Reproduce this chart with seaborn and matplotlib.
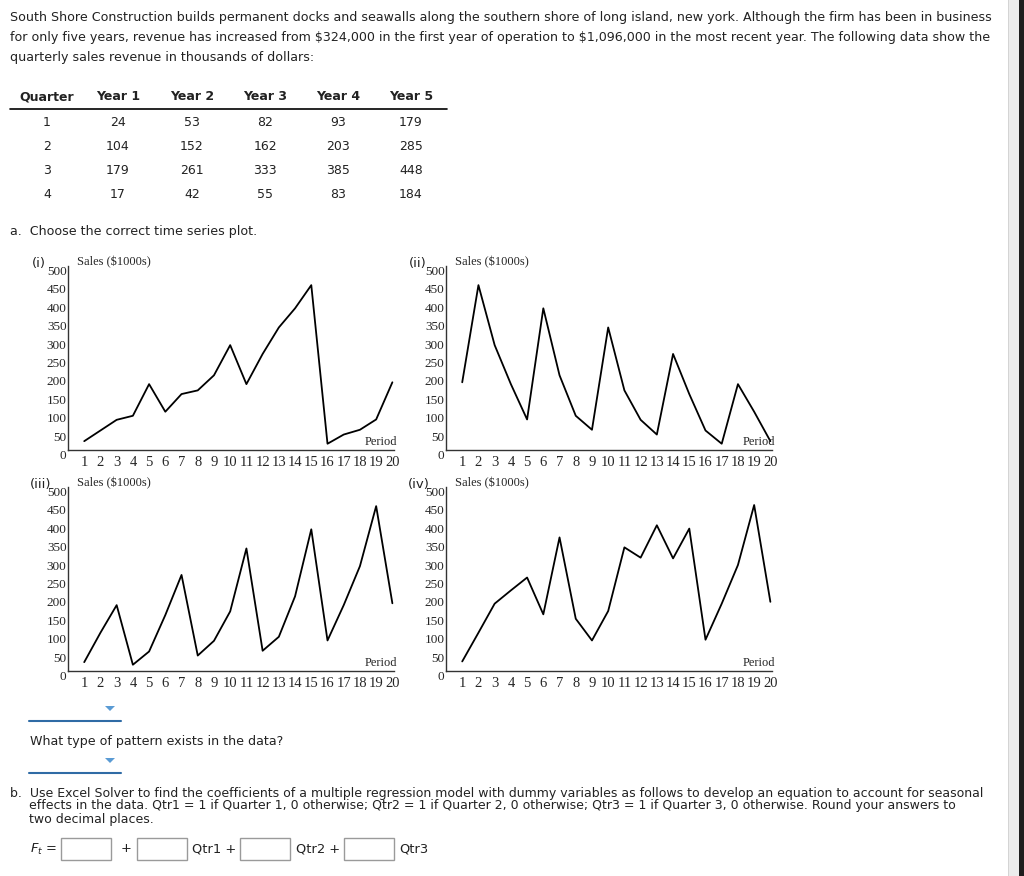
import numpy as np
import pandas as pd
import seaborn as sns
import matplotlib.pyplot as plt
from matplotlib.patches import Rectangle, Polygon

# quarterly sales table (thousands of dollars)
quarters = [1, 2, 3, 4]
year1 = [24, 104, 179, 17]
year2 = [53, 152, 261, 42]
year3 = [82, 162, 333, 55]
year4 = [93, 203, 385, 83]
year5 = [179, 285, 448, 184]
year_labels = ['Year 1', 'Year 2', 'Year 3', 'Year 4', 'Year 5']

# the four candidate time series plots
periods = list(range(1, 21))
sales_i = [24, 53, 82, 93, 179, 104, 152, 162, 203, 285, 179, 261, 333, 385, 448, 17, 42, 55, 83, 184]
sales_ii = [184, 448, 285, 179, 83, 385, 203, 93, 55, 333, 162, 82, 42, 261, 152, 53, 17, 179, 104, 24]
sales_iii = [24, 104, 179, 17, 53, 152, 261, 42, 82, 162, 333, 55, 93, 203, 385, 83, 179, 285, 448, 184]
sales_iv = [26, 104, 183, 219, 254, 154, 363, 142, 83, 163, 336, 308, 396, 306, 387, 85, 183, 288, 451, 188]
y_ticks = [0, 50, 100, 150, 200, 250, 300, 350, 400, 450, 500]

W, H = 1024, 876


def fx(x):
    return x / W


def fy(y):
    return 1 - y / H


sns.set_theme(style='white')
plt.rcParams['font.family'] = ['DejaVu Sans']

fig = plt.figure(figsize=(10.24, 8.76), dpi=100)
fig.patch.set_facecolor('white')

txt = '#222222'
serif = ['Liberation Serif', 'DejaVu Serif']

# intro paragraph
intro = [
    "South Shore Construction builds permanent docks and seawalls along the southern shore of long island, new york. Although the firm has been in business",
    r"for only five years, revenue has increased from \$324,000 in the first year of operation to \$1,096,000 in the most recent year. The following data show the",
    "quarterly sales revenue in thousands of dollars:",
]
for i, line in enumerate(intro):
    fig.text(fx(10), fy(17 + i * 20.5), line, fontsize=9.12, color=txt, va='center')

# table
col_x = [47, 118, 192, 265, 338, 411]
fig.text(fx(col_x[0]), fy(97), 'Quarter', fontsize=9, fontweight='bold', ha='center', va='center', color=txt)
for cx, lab in zip(col_x[1:], year_labels):
    fig.text(fx(cx), fy(97), lab, fontsize=9, fontweight='bold', ha='center', va='center', color=txt)
fig.add_artist(plt.Line2D([fx(10), fx(447)], [fy(109), fy(109)], color='black', linewidth=1.2))
table = pd.DataFrame({'Quarter': quarters, 'Year 1': year1, 'Year 2': year2,
                      'Year 3': year3, 'Year 4': year4, 'Year 5': year5})
for r, row in table.iterrows():
    ry = 122 + r * 24
    for cx, val in zip(col_x, row.values):
        fig.text(fx(cx), fy(ry), str(val), fontsize=9, ha='center', va='center', color=txt)

fig.text(fx(10), fy(232), 'a.  Choose the correct time series plot.', fontsize=9.12, color=txt, va='center')


def draw_chart(left, axis_y, values, tag, tag_x):
    ax = fig.add_axes([fx(left), fy(axis_y), 326 / W, 184 / H])
    sns.lineplot(x=periods, y=values, ax=ax, color='black', linewidth=1.3)
    ax.set_xlim(0, 20.1)
    ax.set_ylim(0, 500)
    ax.set_xlabel('')
    ax.set_ylabel('')
    ax.set_facecolor('none')
    for s in ['top', 'right']:
        ax.spines[s].set_visible(False)
    for s in ['left', 'bottom']:
        ax.spines[s].set_color('#333333')
        ax.spines[s].set_linewidth(1.0)
    ax.set_xticks(periods)
    ax.set_xticklabels([str(p) for p in periods], fontfamily=serif, fontsize=10.5)
    ax.set_yticks(y_ticks)
    ax.set_yticklabels([str(v) for v in y_ticks], fontfamily=serif, fontsize=9.5)
    ax.tick_params(axis='x', direction='in', length=3, width=0.8, color='#333333', pad=4)
    ax.tick_params(axis='y', direction='in', length=2, width=0.8, color='#333333', pad=1)
    for lab in ax.get_yticklabels():
        lab.set_verticalalignment('top')
    fig.text(fx(left + 9), fy(axis_y - 188), r'Sales (\$1000s)', fontfamily=serif, fontsize=9, va='center')
    fig.text(fx(left + 329), fy(axis_y - 8), 'Period', fontfamily=serif, fontsize=9, ha='right', va='center')
    fig.text(fx(tag_x), fy(axis_y - 186), tag, fontsize=9.5, color=txt, va='center')
    return ax


draw_chart(68, 450, sales_i, '(i)', 32)
draw_chart(446, 450, sales_ii, '(ii)', 409)
draw_chart(68, 671, sales_iii, '(iii)', 30)
draw_chart(446, 671, sales_iv, '(iv)', 408)

# dropdowns
blue_line = '#2f6ba5'
blue_tri = '#5a9bd4'
for ly in [721, 773]:
    fig.add_artist(plt.Line2D([fx(29), fx(121)], [fy(ly), fy(ly)], color=blue_line, linewidth=1.5))
    tri = Polygon([[fx(105), fy(ly - 15)], [fx(115), fy(ly - 15)], [fx(110), fy(ly - 10)]],
                  closed=True, transform=fig.transFigure, facecolor=blue_tri, edgecolor='none')
    fig.add_artist(tri)

fig.text(fx(30), fy(741), 'What type of pattern exists in the data?', fontsize=9.12, color=txt, va='center')

part_b = [
    (10, "b.  Use Excel Solver to find the coefficients of a multiple regression model with dummy variables as follows to develop an equation to account for seasonal"),
    (29, "effects in the data. Qtr1 = 1 if Quarter 1, 0 otherwise; Qtr2 = 1 if Quarter 2, 0 otherwise; Qtr3 = 1 if Quarter 3, 0 otherwise. Round your answers to"),
    (29, "two decimal places."),
]
for i, (lx, line) in enumerate(part_b):
    fig.text(fx(lx), fy(793 + i * 13), line, fontsize=9.0, color=txt, va='center')

# equation with input boxes
fig.text(fx(30), fy(849), r'$F_t$ =', fontsize=9.4, color=txt, va='center')
for bx in [61, 137, 240, 344]:
    fig.add_artist(Rectangle((fx(bx), fy(860)), 50 / W, 22 / H, transform=fig.transFigure,
                             facecolor='white', edgecolor='#9a9a9a', linewidth=1))
fig.text(fx(121), fy(849), '+', fontsize=9.4, color=txt, va='center')
fig.text(fx(192), fy(849), 'Qtr1 +', fontsize=9.4, color=txt, va='center')
fig.text(fx(296), fy(849), 'Qtr2 +', fontsize=9.4, color=txt, va='center')
fig.text(fx(399), fy(849), 'Qtr3', fontsize=9.4, color=txt, va='center')

# partially visible next line
fig.text(fx(30), fy(884), 'Let Period 1 refer to the observation in Quarter 1 of year 1; Period 2 refer to the observation in Quarter 2 of year 1; ... and Period 20 refer to',
         fontsize=9.4, color=txt, va='center')

# scrollbar on the right edge
fig.add_artist(Rectangle((fx(1008), 0), 11 / W, 1, transform=fig.transFigure, facecolor='#ececec', edgecolor='none'))
fig.add_artist(Rectangle((fx(1008), 0), 1 / W, 1, transform=fig.transFigure, facecolor='#d4d4d4', edgecolor='none'))
fig.add_artist(Rectangle((fx(1019), 0), 5 / W, 1, transform=fig.transFigure, facecolor='#1e1e1e', edgecolor='none'))

fig.savefig('out.png', dpi=100, facecolor='white')
